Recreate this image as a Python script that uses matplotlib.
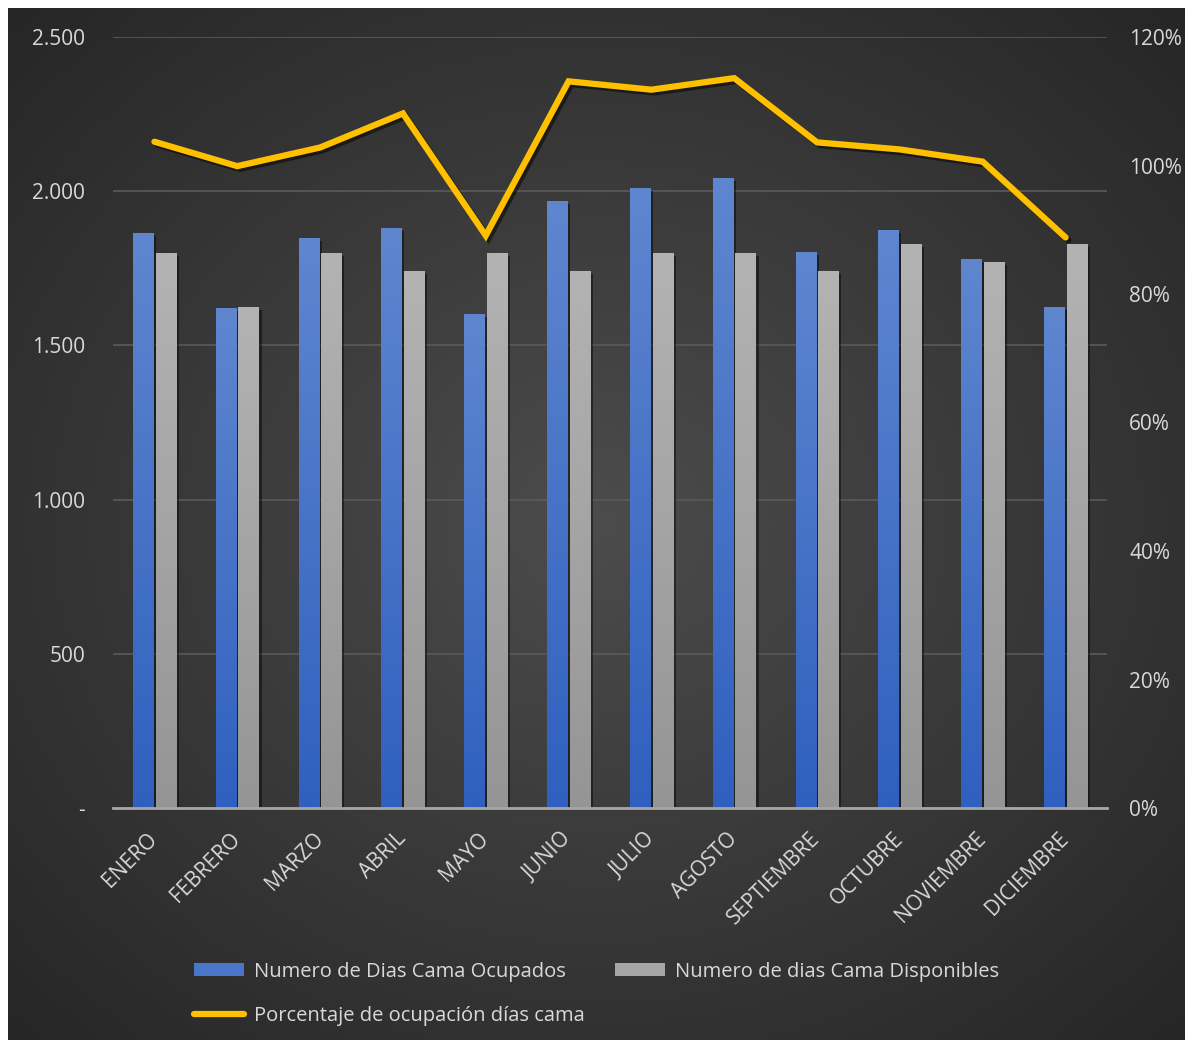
import numpy as np
import matplotlib
matplotlib.use("Agg")
import matplotlib.pyplot as plt
import matplotlib.patheffects as pe
from matplotlib.ticker import FuncFormatter, MultipleLocator
from matplotlib.lines import Line2D
from matplotlib.patches import Patch

months = ["ENERO", "FEBRERO", "MARZO", "ABRIL", "MAYO", "JUNIO", "JULIO",
          "AGOSTO", "SEPTIEMBRE", "OCTUBRE", "NOVIEMBRE", "DICIEMBRE"]
ocupados = [1865, 1622, 1848, 1881, 1602, 1968, 2010, 2043, 1803, 1874, 1780, 1624]
disponibles = [1798, 1624, 1798, 1740, 1798, 1740, 1798, 1798, 1740, 1829, 1770, 1829]
porcentaje = [103.7, 99.9, 102.8, 108.1, 89.1, 113.1, 111.8, 113.6, 103.6, 102.5, 100.6, 88.8]

W, H = 1193, 1047
fig = plt.figure(figsize=(W / 100, H / 100), dpi=100)
fig.patch.set_facecolor("white")
plt.rcParams["font.family"] = ["Open Sans", "DejaVu Sans"]

# background radial gradient
bg = fig.add_axes([8 / W, 7 / H, (W - 16) / W, (H - 15) / H])
bg.set_axis_off()
yy, xx = np.mgrid[0:1:300j, 0:1:300j]
r = np.sqrt((xx - 0.5) ** 2 + (yy - 0.5) ** 2) / 0.7071
c0 = np.array([0x4c, 0x4c, 0x4c]) / 255
c1 = np.array([0x26, 0x26, 0x26]) / 255
img = c0[None, None, :] * (1 - r[..., None]) + c1[None, None, :] * r[..., None]
bg.imshow(img, extent=[0, 1, 0, 1], aspect="auto", origin="lower")
bg.set_xlim(0, 1)
bg.set_ylim(0, 1)

ax = fig.add_axes([113 / W, 1 - 808 / H, (1107 - 113) / W, (808 - 37) / H])
ax.set_facecolor("none")
ax2 = ax.twinx()

x = np.arange(len(months))
bw = 0.245
gap = 0.03
shadow = [pe.SimplePatchShadow(offset=(2, -2), shadow_rgbFace="black", alpha=0.45), pe.Normal()]
b1 = ax.bar(x - (bw + gap) / 2, ocupados, bw, color="#4a76c9", zorder=3, path_effects=shadow)
b2 = ax.bar(x + (bw + gap) / 2, disponibles, bw, color="#a6a6a6", zorder=3, path_effects=shadow)

def grad_fill(bars, top, bottom):
    top = np.array(matplotlib.colors.to_rgb(top))
    bottom = np.array(matplotlib.colors.to_rgb(bottom))
    t = np.linspace(0, 1, 256)[:, None]
    g = (bottom * (1 - t) + top * t)[:, None, :]
    for b in bars:
        x0, y0 = b.get_x(), b.get_y()
        w, h = b.get_width(), b.get_height()
        im = ax.imshow(g, extent=[x0, x0 + w, y0, y0 + h], aspect="auto",
                       origin="lower", zorder=3.5)
        im.set_clip_path(b)

grad_fill(b1, "#5f86cf", "#2f60bf")
grad_fill(b2, "#b3b3b3", "#959595")

FS = 15
ax.set_xlim(-0.5, len(months) - 0.5)
ax.set_ylim(0, 2500)
ax.yaxis.set_major_locator(MultipleLocator(500))
ax.yaxis.set_major_formatter(FuncFormatter(lambda v, p: "-" if v == 0 else f"{int(v):,}".replace(",", ".")))
ax.grid(axis="y", color="#5a5a5a", linewidth=1.2, zorder=0)
ax.set_axisbelow(True)
for s in ["top", "right", "left"]:
    ax.spines[s].set_visible(False)
ax.spines["bottom"].set_color("#a6a6a6")
ax.spines["bottom"].set_linewidth(2)
ax.spines["bottom"].set_zorder(5)
ax.tick_params(axis="y", length=0, pad=20, labelsize=FS, labelcolor="#d9d9d9")
ax.tick_params(axis="x", length=0, pad=20, labelsize=FS, labelcolor="#d9d9d9")
ax.set_xticks(x)
ax.set_xticklabels(months, rotation=45, ha="right", va="center", rotation_mode="anchor")

ax2.set_ylim(0, 120)
ax2.yaxis.set_major_locator(MultipleLocator(20))
ax2.yaxis.set_major_formatter(FuncFormatter(lambda v, p: f"{int(v)}%"))
for s in ax2.spines.values():
    s.set_visible(False)
ax2.tick_params(axis="y", length=0, pad=16, labelsize=FS, labelcolor="#d9d9d9")
ln, = ax2.plot(x, porcentaje, color="#ffc000", linewidth=4.5, solid_joinstyle="miter",
               solid_capstyle="round", zorder=6,
               path_effects=[pe.SimpleLineShadow(offset=(2, -2), shadow_color="black", alpha=0.5), pe.Normal()])

handles = [Patch(facecolor="#4a76c9"), Line2D([], [], color="#ffc000", linewidth=4.5, solid_capstyle="round"),
           Patch(facecolor="#a6a6a6")]
labels = ["Numero de Dias Cama Ocupados", "Porcentaje de ocupación días cama",
          "Numero de dias Cama Disponibles"]
leg = fig.legend(handles, labels, ncol=2, loc="center", bbox_to_anchor=(0.5, 1 - 994 / H),
                 frameon=False, fontsize=FS - 0.5, labelcolor="#d9d9d9", handlelength=2.5,
                 handleheight=0.6, columnspacing=1.5, labelspacing=1.2, handletextpad=0.5)

fig.savefig("out.png", dpi=100, facecolor=fig.get_facecolor())
